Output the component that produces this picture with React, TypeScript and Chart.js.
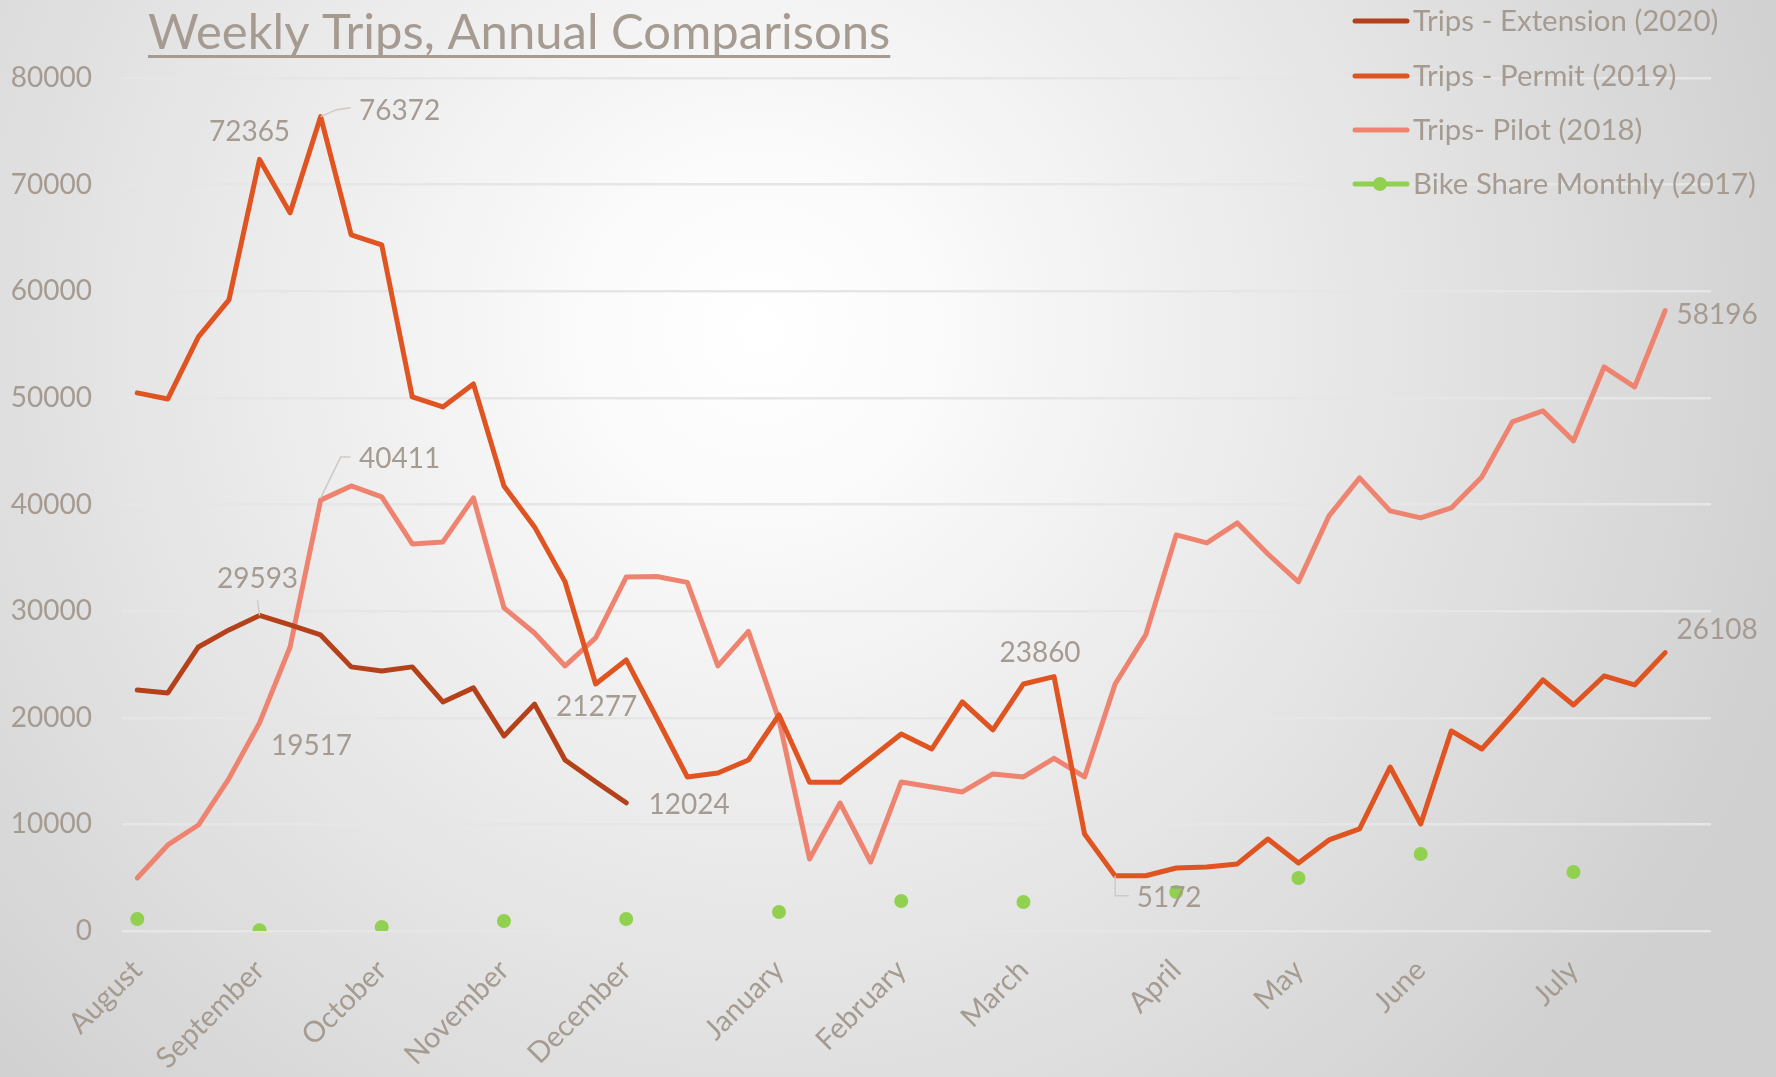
import React, { useEffect, useRef } from 'react';
import { Chart, registerables } from 'chart.js';

Chart.register(...registerables);

// ---- data ----
const monthLabels: string[] = [
  'August', '', '', '', 'September', '', '', '', 'October', '', '', '', 'November', '', '', '',
  'December', '', '', '', '', 'January', '', '', '', 'February', '', '', '', 'March', '', '', '', '',
  'April', '', '', '', 'May', '', '', '', 'June', '', '', '', '', 'July', '', '', '', '',
];

const extension2020: (number | null)[] = [
  22600, 22330, 26640, 28240, 29593, 28700, 27770, 24770, 24390, 24770, 21480, 22800, 18290, 21277,
  16040, 14000, 12024,
];

const permit2019: (number | null)[] = [
  50470, 49900, 55720, 59190, 72365, 67350, 76372, 65290, 64350, 50090, 49150, 51310, 41740, 37900,
  32740, 23170, 25420, 19980, 14450, 14820, 16040, 20260, 13950, 13950, 16200, 18480, 17070, 21480,
  18860, 23170, 23860, 9100, 5172, 5180, 5910, 6000, 6290, 8630, 6380, 8540, 9570, 15380, 10040,
  18760, 17070, 20260, 23550, 21200, 23920, 23080, 26108,
];

const pilot2018: (number | null)[] = [
  4970, 8070, 9940, 14300, 19517, 26640, 40411, 41740, 40710, 36300, 36490, 40620, 30300, 27950,
  24860, 27490, 33200, 33250, 32700, 24860, 28100, 19800, 6750, 12000, 6470, 13980, 13500, 13040,
  14730, 14450, 16200, 14450, 23170, 27770, 37150, 36400, 38270, 35360, 32740, 38930, 42500, 39400,
  38740, 39680, 42590, 47750, 48780, 45970, 52900, 51030, 58196,
];

const bikeShare2017: (number | null)[] = [
  1130, null, null, null, 80, null, null, null, 375, null, null, null, 940, null, null, null,
  1130, null, null, null, null, 1780, null, null, null, 2810, null, null, null, 2720, null, null, null, null,
  3660, null, null, null, 4970, null, null, null, 7220, null, null, null, null, 5530, null, null, null, null,
];

const seriesNames = ['Trips - Extension (2020)', 'Trips - Permit (2019)', 'Trips- Pilot (2018)', 'Bike Share Monthly (2017)'];
const titleText = 'Weekly Trips, Annual Comparisons';

// ---- styles ----
const TEXT = '#a59b91';
const FONT = 'Lato';
const COLORS = ['#b5411a', '#df5420', '#ee8470', '#92d050'];

// data label placement: [datasetIndex, pointIndex, dx, dy, leader polyline]
const labelSpecs: { ds: number; i: number; dx: number; dy: number; leader?: number[][] }[] = [
  { ds: 1, i: 4, dx: -10, dy: -28 },
  { ds: 1, i: 6, dx: 79, dy: -7, leader: [[0, 0], [16, -7], [30, -9]] },
  { ds: 2, i: 6, dx: 79, dy: -42, leader: [[0, -2], [20, -43], [30, -43]] },
  { ds: 0, i: 4, dx: -2, dy: -37, leader: [[-2, -15], [0, 0]] },
  { ds: 2, i: 4, dx: 52, dy: 22 },
  { ds: 0, i: 13, dx: 62, dy: 2 },
  { ds: 0, i: 16, dx: 63, dy: 1 },
  { ds: 1, i: 30, dx: -14, dy: -25 },
  { ds: 1, i: 32, dx: 54, dy: 21, leader: [[0, 0], [0, 20], [14, 20]] },
  { ds: 2, i: 50, dx: 52, dy: 4 },
  { ds: 1, i: 50, dx: 52, dy: -24 },
];

const bgPlugin = {
  id: 'bg',
  beforeDraw(chart: any) {
    const { ctx, width, height } = chart;
    ctx.save();
    const g = ctx.createRadialGradient(760, 330, 0, 760, 330, 1080);
    g.addColorStop(0, '#ffffff');
    g.addColorStop(0.15, '#fbfbfb');
    g.addColorStop(1, '#d0d0d0');
    ctx.fillStyle = g;
    ctx.fillRect(0, 0, width, height);
    ctx.restore();
  },
};

const overlayPlugin = {
  id: 'overlay',
  afterDraw(chart: any) {
    const { ctx } = chart;
    ctx.save();
    // title
    ctx.font = `49px ${FONT}`;
    ctx.fillStyle = TEXT;
    ctx.textAlign = 'left';
    ctx.textBaseline = 'alphabetic';
    ctx.fillText(titleText, 148, 49);
    const tw = ctx.measureText(titleText).width;
    ctx.fillRect(148, 55, tw, 3);

    // legend
    const ly = [21, 76, 130, 184];
    seriesNames.forEach((name, k) => {
      ctx.strokeStyle = COLORS[k];
      ctx.lineWidth = 5;
      ctx.lineCap = 'round';
      ctx.beginPath();
      ctx.moveTo(1355, ly[k]);
      ctx.lineTo(1407, ly[k]);
      ctx.stroke();
      if (k === 3) {
        ctx.fillStyle = COLORS[k];
        ctx.beginPath();
        ctx.arc(1380, ly[k], 7, 0, Math.PI * 2);
        ctx.fill();
      }
      ctx.fillStyle = TEXT;
      ctx.font = `29.4px ${FONT}`;
      ctx.textAlign = 'left';
      ctx.textBaseline = 'alphabetic';
      ctx.fillText(name, 1413, ly[k] + 10);
    });

    // data labels
    ctx.font = `28px ${FONT}`;
    ctx.textAlign = 'center';
    labelSpecs.forEach((s) => {
      const meta = chart.getDatasetMeta(s.ds);
      const pt = meta.data[s.i];
      if (!pt) return;
      const x = pt.x, y = pt.y;
      if (s.leader) {
        ctx.strokeStyle = '#cfcac5';
        ctx.lineWidth = 1.5;
        ctx.lineCap = 'butt';
        ctx.beginPath();
        s.leader.forEach((p, j) => (j === 0 ? ctx.moveTo(x + p[0], y + p[1]) : ctx.lineTo(x + p[0], y + p[1])));
        ctx.stroke();
      }
      const v = chart.data.datasets[s.ds].data[s.i];
      ctx.fillStyle = TEXT;
      ctx.fillText(String(v), x + s.dx, y + s.dy + 10);
    });
    ctx.restore();
  },
};

export default function App() {
  const ref = useRef<HTMLCanvasElement>(null);
  useEffect(() => {
    const canvas = ref.current;
    if (!canvas) return;
    const lineDs = (label: string, data: (number | null)[], color: string) => ({
      label,
      data,
      borderColor: color,
      backgroundColor: color,
      borderWidth: 5,
      pointRadius: 0,
      pointHoverRadius: 0,
      borderCapStyle: 'round' as const,
      borderJoinStyle: 'round' as const,
      tension: 0,
      fill: false,
    });
    const chart = new Chart(canvas, {
      type: 'line',
      data: {
        labels: monthLabels,
        datasets: [
          lineDs(seriesNames[0], extension2020, COLORS[0]),
          lineDs(seriesNames[1], permit2019, COLORS[1]),
          lineDs(seriesNames[2], pilot2018, COLORS[2]),
          {
            label: seriesNames[3],
            data: bikeShare2017,
            borderColor: COLORS[3],
            backgroundColor: COLORS[3],
            showLine: false,
            pointRadius: 7,
            pointBorderWidth: 0,
            pointHoverRadius: 7,
          } as any,
        ],
      },
      options: {
        responsive: false,
        animation: false,
        devicePixelRatio: 1,
        layout: { padding: { top: 78, right: 65, left: 0, bottom: 0 } },
        plugins: {
          legend: { display: false },
          title: { display: false },
          tooltip: { enabled: false },
        },
        scales: {
          x: {
            offset: true,
            grid: { display: false, drawTicks: false },
            border: { display: false },
            ticks: {
              autoSkip: false,
              minRotation: 45,
              maxRotation: 45,
              padding: 22,
              color: TEXT,
              font: { family: FONT, size: 29 },
            },
            afterFit: (s: any) => {
              s.height = 146;
            },
          },
          y: {
            min: 0,
            max: 80000,
            ticks: {
              stepSize: 10000,
              padding: 30,
              color: TEXT,
              font: { family: FONT, size: 28 },
              callback: (v: any) => String(v),
            },
            grid: { color: '#e6e6e6', lineWidth: 2.5, drawTicks: false },
            border: { display: false },
            afterFit: (s: any) => {
              s.width = 122;
            },
          },
        },
      },
      plugins: [bgPlugin, overlayPlugin],
    });
    return () => chart.destroy();
  }, []);
  return (
    <div style={{ position: 'absolute', left: 0, top: 0, width: 1776, height: 1077, overflow: 'hidden' }}>
      <canvas ref={ref} width={1776} height={1077} style={{ display: 'block' }} />
    </div>
  );
}
